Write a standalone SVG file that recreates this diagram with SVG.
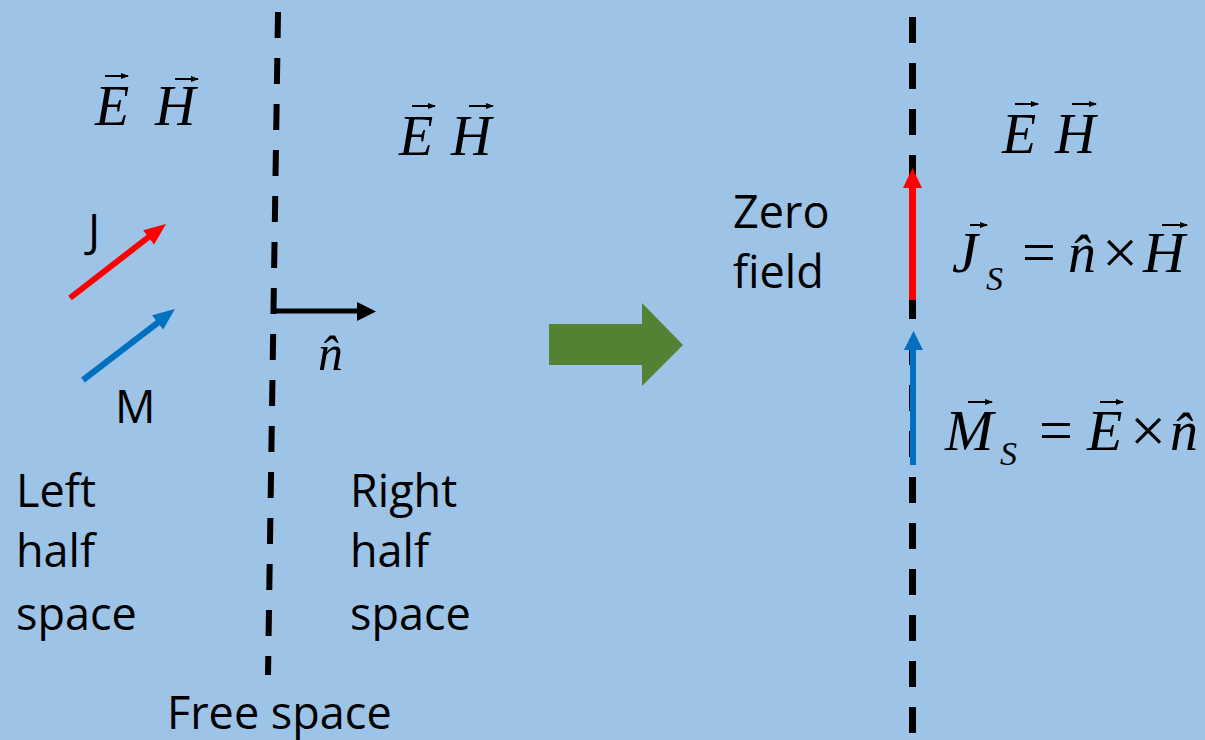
<svg xmlns="http://www.w3.org/2000/svg" width="1205" height="740" viewBox="0 0 1205 740">
<defs>
<marker id="va" markerWidth="8" markerHeight="6" refX="7" refY="3" orient="auto" markerUnits="userSpaceOnUse"><path d="M0,0 L8,3 L0,6 Z" fill="#000"/></marker>
<style>
.m{font-family:"Liberation Serif","Times New Roman",serif;font-style:italic;fill:#000}
.r{font-family:"Liberation Serif","Times New Roman",serif;fill:#000}
.s{font-family:"Open Sans","Liberation Sans",sans-serif;font-size:45px;fill:#000}
.vec{stroke:#000;stroke-width:2;fill:none;marker-end:url(#va)}
.dash{stroke:#000;fill:none;stroke-dasharray:26 20}
</style>
</defs>
<rect width="1205" height="740" fill="#9DC3E6"/>
<g id="connectors">
<line class="dash" x1="278" y1="12" x2="268" y2="675" stroke-width="6"/>
<line class="dash" x1="912.5" y1="17" x2="912.5" y2="740" stroke-width="7"/>
</g>
<g id="normal">
<line x1="272" y1="311" x2="360" y2="311" stroke="#000" stroke-width="5"/>
<polygon points="357,302 376,311.5 357,321" fill="#000"/>
<text class="m" x="318" y="370" font-size="50">n̂</text>
</g>
<g id="J-arrow">
<line x1="70" y1="298" x2="150" y2="236" stroke="#FF0000" stroke-width="6"/>
<polygon points="166,224 154.1,244.5 143.1,230.3" fill="#FF0000"/>
<text class="s" x="88" y="247">J</text>
</g>
<g id="M-arrow">
<line x1="83" y1="380" x2="160" y2="321" stroke="#0070C0" stroke-width="6"/>
<polygon points="175,309 163.1,329.5 152.1,315.3" fill="#0070C0"/>
<text class="s" x="115" y="423">M</text>
</g>
<g id="EH-left">
<text class="m" x="95" y="125" font-size="56">E</text>
<text class="m" x="155" y="125" font-size="56">H</text>
<path class="vec" d="M105,76 L128,76"/>
<path class="vec" d="M175,79 L198,79"/>
</g>
<g id="EH-mid">
<text class="m" x="399" y="155" font-size="56">E</text>
<text class="m" x="451" y="155" font-size="56">H</text>
<path class="vec" d="M412,106 L435,106"/>
<path class="vec" d="M469,106 L493,106"/>
</g>
<g id="EH-right">
<text class="m" x="1002" y="153" font-size="56">E</text>
<text class="m" x="1055" y="153" font-size="56">H</text>
<path class="vec" d="M1015,104 L1038,104"/>
<path class="vec" d="M1072,104 L1096,104"/>
</g>
<g id="left-label">
<text class="s" x="16" y="507">Left</text>
<text class="s" x="16" y="567">half</text>
<text class="s" x="16" y="630">space</text>
</g>
<g id="right-label">
<text class="s" x="350" y="507">Right</text>
<text class="s" x="350" y="567">half</text>
<text class="s" x="350" y="630">space</text>
</g>
<g id="free-space"><text class="s" x="167" y="729">Free space</text></g>
<g id="zero-field">
<text class="s" x="733" y="228">Zero</text>
<text class="s" x="733" y="288">field</text>
</g>
<g id="green-arrow">
<polygon points="549,324 642,324 642,303 683,345 642,386 642,365 549,365" fill="#548235"/>
</g>
<g id="Js-arrow">
<line x1="912.5" y1="300" x2="912.5" y2="186" stroke="#FF0000" stroke-width="7"/>
<polygon points="903,188 922,188 912.5,168" fill="#FF0000"/>
</g>
<g id="Ms-arrow">
<line x1="913" y1="465" x2="913" y2="348" stroke="#0070C0" stroke-width="6"/>
<polygon points="904,350 923,350 913.5,331" fill="#0070C0"/>
</g>
<g id="Js-eq">
<text class="m" x="952" y="272" font-size="58">J</text>
<path class="vec" d="M970,225 L987,225"/>
<text class="m" x="986" y="290" font-size="34">S</text>
<text class="r" x="1022" y="272" font-size="60">=</text>
<text class="m" x="1068" y="272" font-size="56">n̂</text>
<text class="r" x="1102" y="274" font-size="64">×</text>
<text class="m" x="1143" y="272" font-size="58">H</text>
<path class="vec" d="M1162,225 L1187,225"/>
</g>
<g id="Ms-eq">
<text class="m" x="945" y="450" font-size="58">M</text>
<path class="vec" d="M968,402 L992,402"/>
<text class="m" x="1000" y="465" font-size="34">S</text>
<text class="r" x="1039" y="450" font-size="60">=</text>
<text class="m" x="1087" y="450" font-size="58">E</text>
<path class="vec" d="M1100,402 L1123,402"/>
<text class="r" x="1130" y="452" font-size="64">×</text>
<text class="m" x="1170" y="450" font-size="56">n̂</text>
</g>
</svg>
